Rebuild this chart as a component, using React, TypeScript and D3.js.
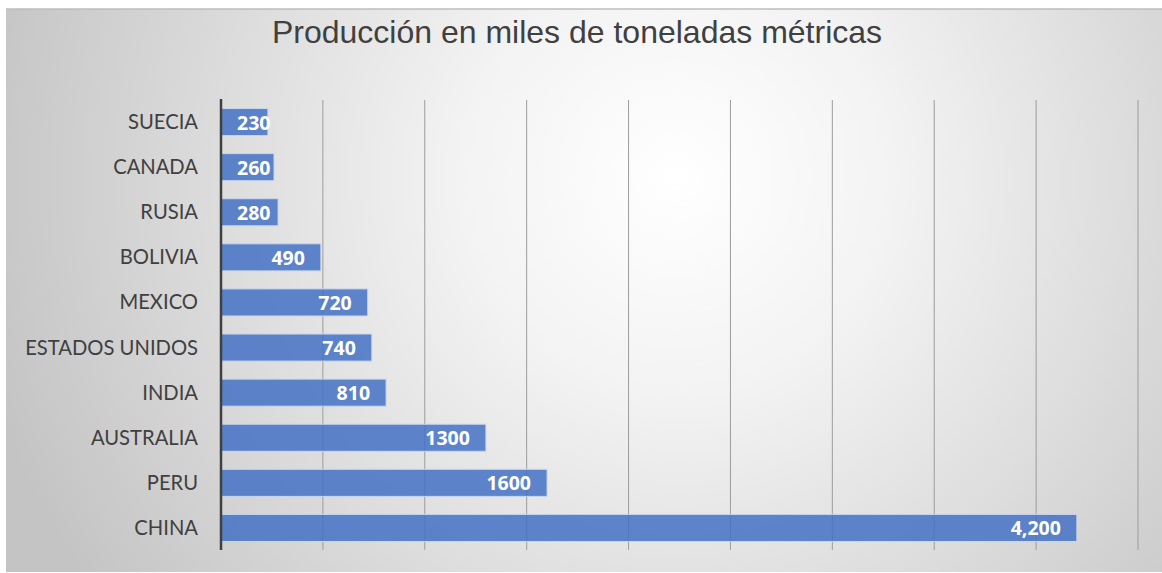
import React from "react";
import * as d3 from "d3";

const categories = ["SUECIA", "CANADA", "RUSIA", "BOLIVIA", "MEXICO", "ESTADOS UNIDOS", "INDIA", "AUSTRALIA", "PERU", "CHINA"];
const values = [230, 260, 280, 490, 720, 740, 810, 1300, 1600, 4200];
const valueLabels = ["230", "260", "280", "490", "720", "740", "810", "1300", "1600", "4,200"];
const xTicks = [0, 500, 1000, 1500, 2000, 2500, 3000, 3500, 4000, 4500];
const title = "Producción en miles de toneladas métricas";

const W = 1162;
const H = 573;

export default function App() {
  const x = d3.scaleLinear().domain([0, 4500]).range([221, 1138]);
  const y = d3.scaleBand<string>().domain(categories).range([99.5, 550.5]).paddingInner(0.4).paddingOuter(0.2);
  const axisX = x(0);
  const labelSize = 19.5;
  const digitW = labelSize * 0.572;
  return (
    <svg width={W} height={H} style={{ position: "absolute", left: 0, top: 0 }}>
      <defs>
        <radialGradient id="bg" cx="0.58" cy="0.3" r="0.62" gradientTransform="translate(0.58,0.3) scale(1,2.05) translate(-0.58,-0.3)">
          <stop offset="0" stopColor="#ffffff" />
          <stop offset="0.3" stopColor="#f3f3f3" />
          <stop offset="1" stopColor="#c4c4c4" />
        </radialGradient>
      </defs>
      <rect x={0} y={0} width={W} height={H} fill="#ffffff" />
      <rect x={6} y={9} width={W - 6} height={563} fill="url(#bg)" />
      <line x1={6} x2={W} y1={9} y2={9} stroke="#bdbdbd" strokeWidth={1.5} />
      <text x={577} y={43} textAnchor="middle" fontFamily="'Liberation Sans', Arial, sans-serif" fontSize={32} fill="#404040">
        {title}
      </text>
      {xTicks.slice(1).map((t) => (
        <line key={t} x1={x(t)} x2={x(t)} y1={100} y2={550} stroke="#9c9c9c" strokeWidth={1} />
      ))}
      {categories.map((c, i) => {
        const y0 = y(c) as number;
        const bw = y.bandwidth();
        const end = x(values[i]);
        const lbl = valueLabels[i];
        const lw = lbl.replace(",", "").length * digitW + (lbl.includes(",") ? 5 : 0);
        const lx = Math.max(end - 16, axisX + 16 + lw);
        return (
          <g key={c}>
            <rect x={axisX} y={y0} width={end - axisX} height={bw} fill="#4472c4" fillOpacity={0.85} stroke="#c9d5ee" strokeWidth={1} />
            <text x={lx} y={y0 + bw / 2 + 7.5} textAnchor="end" fontFamily="'Open Sans', Lato, sans-serif" fontWeight={700} fontSize={labelSize} fill="#ffffff">
              {lbl}
            </text>
            <text x={198} y={y0 + bw / 2 + 7} textAnchor="end" fontFamily="Lato, 'Open Sans', sans-serif" fontSize={20.2} fill="#404040">
              {c}
            </text>
          </g>
        );
      })}
      <line x1={axisX} x2={axisX} y1={99} y2={550} stroke="#404040" strokeWidth={2.5} />
    </svg>
  );
}
